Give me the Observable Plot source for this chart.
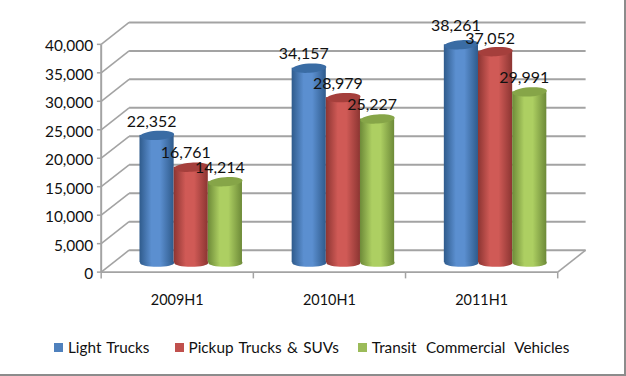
<!DOCTYPE html>
<html><head><meta charset="utf-8">
<script src="https://cdn.jsdelivr.net/npm/d3@7"></script>
<script src="https://cdn.jsdelivr.net/npm/@observablehq/plot@0.6"></script>
<style>
html,body{margin:0;padding:0;background:#fff}
#wrap{width:624px;height:374px;border-right:2px solid #8c8c8c;border-bottom:2px solid #8c8c8c;position:relative;overflow:hidden;font-family:Lato,sans-serif}
#wrap svg{display:block;position:absolute;left:0;top:0;background:transparent}
#legend{position:absolute;left:54px;top:338px;display:flex;font-size:15.3px;word-spacing:1.5px;color:#111;white-space:nowrap}
#legend span{display:flex;align-items:center;margin-right:25px}
#legend span:nth-child(2){margin-right:19px}
#legend span:nth-child(3){word-spacing:5.5px}
#legend i{display:inline-block;width:9px;height:9px;margin-right:5px}
</style></head><body>
<div id="wrap"><div id="chart"></div><div id="legend"></div></div>
<script>
const categories = ["2009H1","2010H1","2011H1"];
const seriesNames = ["Light Trucks","Pickup Trucks & SUVs","Transit Commercial Vehicles"];
const lightTrucks = [22352,34157,38261];
const pickupTrucks = [16761,28979,37052];
const transitVehicles = [14214,25227,29991];
const yTicks = [0,5000,10000,15000,20000,25000,30000,35000,40000];
const palette = {
  "Light Trucks":{id:"gb",edge:"#2f5b8c",mid:"#5b8fd0",top:"#3a6ca4",swatch:"#4f81bd"},
  "Pickup Trucks & SUVs":{id:"gr",edge:"#8c3532",mid:"#d05a56",top:"#a53f3c",swatch:"#c0504d"},
  "Transit Commercial Vehicles":{id:"gg",edge:"#6d8a38",mid:"#adcf62",top:"#86a548",swatch:"#9bbb59"}
};
const depthX = 0.1834, depthY = 3851, barW = 0.2245;
const rows = [];
[lightTrucks,pickupTrucks,transitVehicles].forEach((vals,s)=>vals.forEach((v,i)=>rows.push({
  name:seriesNames[s], s, i, v,
  cx:i+0.5+depthX/2+(s-1)*barW
})));
function ell(rx,ry,tilt){
  const c=Math.cos(tilt), sn=Math.sin(tilt), k=0.5523;
  const p=(x,y)=>[x*c-y*sn,x*sn+y*c];
  return {draw(ctx){
    ctx.moveTo(...p(-rx,0));
    ctx.bezierCurveTo(...p(-rx,-k*ry),...p(-k*rx,-ry),...p(0,-ry));
    ctx.bezierCurveTo(...p(k*rx,-ry),...p(rx,-k*ry),...p(rx,0));
    ctx.bezierCurveTo(...p(rx,k*ry),...p(k*rx,ry),...p(0,ry));
    ctx.bezierCurveTo(...p(-k*rx,ry),...p(-rx,k*ry),...p(-rx,0));
    ctx.closePath();
  }};
}
const topSym = ell(17.2,4.6,-0.07), botSym = ell(17.2,4.2,0);
const defs = () => {
  const d = d3.create("svg:defs");
  for (const n of seriesNames){
    const p = palette[n];
    const g = d.append("linearGradient").attr("id",p.id).attr("x1",0).attr("x2",1).attr("y1",0).attr("y2",0);
    [[0,p.edge],[0.35,p.mid],[0.6,p.mid],[1,p.edge]].forEach(([o,c])=>g.append("stop").attr("offset",o).attr("stop-color",c));
  }
  return d.node();
};
const gray = "#a3a3a3";
const barLift = -9.5;
const fmt = d3.format(",");
const barMarks = rows.flatMap(r=>{
  const p = palette[r.name], one=[r];
  return [
    Plot.dot(one,{x:"cx",y:()=>0,r:10,symbol:botSym,fill:`url(#${p.id})`,dy:barLift}),
    Plot.rectY(one,{x1:d=>d.cx-barW/2,x2:d=>d.cx+barW/2,y1:()=>0,y2:"v",fill:`url(#${p.id})`,dy:barLift}),
    Plot.dot(one,{x:"cx",y:"v",r:10,symbol:topSym,fill:p.top,dy:barLift})
  ];
});
const plot = Plot.plot({
  width:626,height:340,
  marginLeft:0,marginRight:0,marginTop:0,marginBottom:0,
  style:{fontFamily:"Lato,sans-serif",fontSize:"15px",color:"#111",background:"transparent",overflow:"visible"},
  x:{type:"linear",domain:[0,3],range:[101,559],axis:null},
  y:{type:"linear",domain:[0,40000],range:[272.5,44],axis:null},
  marks:[
    defs,
    Plot.link(yTicks,{x1:()=>depthX,x2:()=>3+depthX,y1:d=>d+depthY,y2:d=>d+depthY,stroke:gray,strokeWidth:2}),
    Plot.link(yTicks,{x1:()=>0,y1:d=>d,x2:()=>depthX,y2:d=>d+depthY,stroke:gray,strokeWidth:1.6}),
    Plot.link([3],{x1:d=>d,y1:()=>0,x2:d=>d+depthX,y2:()=>depthY,stroke:gray,strokeWidth:1.6}),
    Plot.link([0],{x1:()=>0,x2:()=>3,y1:d=>d,y2:d=>d,stroke:gray,strokeWidth:2}),
    Plot.link([0],{x1:d=>d,x2:d=>d,y1:()=>0,y2:()=>40000,stroke:gray,strokeWidth:2}),
    Plot.link(yTicks,{x1:()=>-0.028,x2:()=>0,y1:d=>d,y2:d=>d,stroke:gray,strokeWidth:1.5}),
    Plot.link([0,1,2,3],{x1:d=>d,x2:d=>d,y1:()=>0,y2:()=>-1100,stroke:gray,strokeWidth:1.5}),
    ...barMarks,
    Plot.text(yTicks,{x:()=>0,y:d=>d,text:d=>fmt(d),textAnchor:"end",dx:-8,dy:2,fontSize:15.5,fill:"#111"}),
    Plot.text(categories,{x:(d,i)=>i+0.5,y:()=>-5000,text:d=>d,fontSize:14.5,fill:"#111"}),
    Plot.text(rows.filter(d=>d.v!==38261 && d.v!==37052),{x:"cx",y:"v",text:d=>fmt(d.v),dx:-5.5,dy:barLift-14,fontSize:16,fill:"#111"}),
    Plot.text(rows.filter(d=>d.v===37052),{x:"cx",y:"v",text:d=>fmt(d.v),dx:-5.5,dy:barLift-13,fontSize:16,fill:"#111"}),
    Plot.text(rows.filter(d=>d.v===38261),{x:"cx",y:"v",text:d=>fmt(d.v),dx:-5.5,dy:barLift-19,fontSize:16,fill:"#111"})
  ]
});
document.getElementById("chart").append(plot);
const leg = d3.select("#legend");
seriesNames.forEach(n=>{
  const s = leg.append("span");
  s.append("i").style("background",palette[n].swatch);
  s.append("b").style("font-weight","normal").text(n);
});
</script>
</body></html>
